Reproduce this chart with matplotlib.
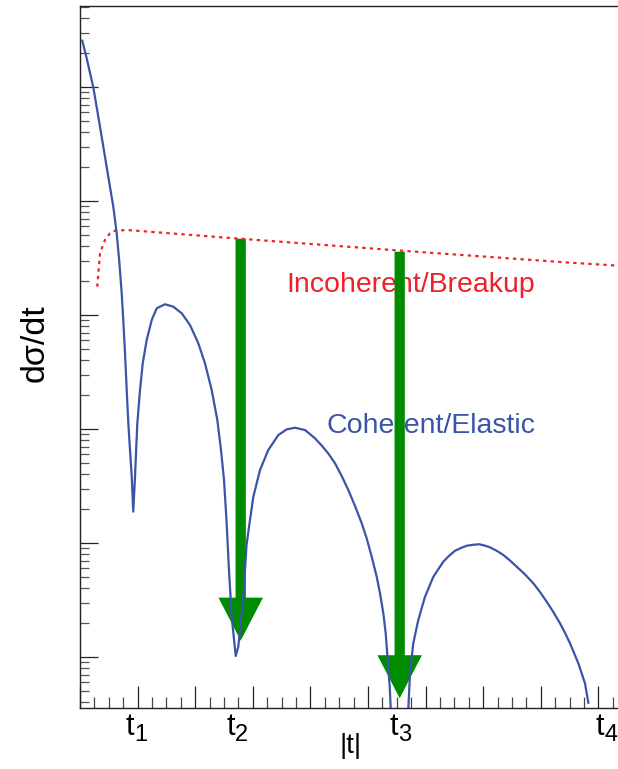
import matplotlib
matplotlib.use('Agg')
import matplotlib.pyplot as plt
import numpy as np
from matplotlib.ticker import MultipleLocator, LogLocator, NullFormatter

plt.rcParams['font.family'] = ['Liberation Sans', 'DejaVu Sans']

# ---------------- data (arbitrary units) ----------------
# coherent / elastic curve: |t| and log10(dsigma/dt)
coh_t = [0.040, 0.116, 0.231, 0.318, 0.405, 0.491, 0.578, 0.637, 0.682, 0.724,
         0.752, 0.781, 0.811, 0.839, 0.868, 0.898, 0.925,
         0.955, 0.995, 1.042, 1.089, 1.158, 1.245, 1.332, 1.476, 1.620, 1.766,
         1.910, 2.054, 2.170, 2.286, 2.384, 2.448, 2.500, 2.543, 2.583, 2.634,
         2.703,
         2.748, 2.835, 2.891, 2.951, 3.009, 3.125, 3.269, 3.443, 3.589, 3.733,
         3.906, 4.080, 4.196, 4.311, 4.427, 4.543, 4.658, 4.774, 4.891, 4.977,
         5.064, 5.151, 5.208, 5.266, 5.307, 5.342, 5.377, 5.394,
         5.550,
         5.700, 5.729, 5.786, 5.873, 5.990, 6.134, 6.307, 6.403, 6.510, 6.611,
         6.714, 6.819, 6.927, 7.023, 7.118, 7.233, 7.349, 7.465, 7.582, 7.726,
         7.870, 7.986, 8.102, 8.217, 8.333, 8.420, 8.507, 8.651, 8.767, 8.825]
coh_log10 = [5.406, 5.252, 4.997, 4.739, 4.476, 4.213, 3.950, 3.717, 3.470, 3.190,
             2.950, 2.670, 2.342, 2.050, 1.816, 1.582, 1.275,
             1.582, 2.050, 2.342, 2.576, 2.781, 2.956, 3.059, 3.094, 3.073, 3.015,
             2.912, 2.752, 2.576, 2.342, 2.079, 1.816, 1.553, 1.202, 0.792, 0.354,
             0.009,
             0.090, 0.524, 0.982, 1.202, 1.406, 1.640, 1.816, 1.947, 1.997, 2.011,
             1.991, 1.918, 1.855, 1.785, 1.699, 1.588, 1.465, 1.325, 1.173, 1.041,
             0.880, 0.704, 0.559, 0.383, 0.208, -0.026, -0.261, -0.450,
             -1.200,
             -0.450, -0.143, 0.120, 0.325, 0.529, 0.704, 0.836, 0.886, 0.932, 0.956,
             0.976, 0.984, 0.989, 0.978, 0.962, 0.932, 0.895, 0.846, 0.792, 0.724,
             0.646, 0.570, 0.485, 0.395, 0.296, 0.211, 0.120, -0.055, -0.231, -0.401]

# incoherent / breakup curve
incoh_t = [0.300, 0.318, 0.347, 0.434, 0.521, 0.578, 0.811, 2.703, 5.556, 8.507, 9.6]
incoh_log10 = [3.248, 3.366, 3.541, 3.658, 3.717, 3.737, 3.746, 3.672, 3.565, 3.459, 3.425]

# arrows: position, top and tip (log10 dsigma/dt)
arrow_t = [2.790, 5.550]
arrow_top = [3.669, 3.555]
arrow_tip = [0.143, -0.362]

# |t| marks
tick_main = ['t', 't', 't', 't']
tick_sub = ['1', '2', '3', '4']
tick_pos = [0.937, 2.691, 5.521, 9.097]

label_incoh = 'Incoherent/Breakup'
label_coh = 'Coherent/Elastic'
label_incoh_pos = (7.899, 3.204)
label_coh_pos = (7.899, 1.962)

xlim = (0.0, 9.6)
ylim_log10 = (-0.4447, 5.7105)

# ---------------- style ----------------
BLUE = '#3a55a5'
RED = '#ed2228'
GREEN = '#008c00'
AX = '#222222'

fig = plt.figure(figsize=(6.18, 7.69), dpi=100)
ax = fig.add_axes([0.12945, 0.07971, 0.8948, 0.91248])
ax.set_yscale('log')
ax.set_xlim(*xlim)
ax.set_ylim(10.0 ** ylim_log10[0], 10.0 ** ylim_log10[1])

# text labels (drawn below arrows)
ax.text(label_incoh_pos[0], 10.0 ** label_incoh_pos[1], label_incoh, color=RED,
        fontsize=20.5, ha='right', va='baseline', zorder=1)
ax.text(label_coh_pos[0], 10.0 ** label_coh_pos[1], label_coh, color=BLUE,
        fontsize=20.5, ha='right', va='baseline', zorder=1)

# arrows
for x, top, tip in zip(arrow_t, arrow_top, arrow_tip):
    ax.annotate('', xy=(x, 10.0 ** tip), xytext=(x, 10.0 ** top),
                arrowprops=dict(arrowstyle='simple,head_length=31,head_width=32,tail_width=7.4',
                                mutation_scale=1, shrinkA=0, shrinkB=0,
                                fc=GREEN, ec='none', lw=0),
                zorder=2)

# curves
ax.plot(incoh_t, 10.0 ** np.array(incoh_log10), color=RED, lw=1.6,
        linestyle=(0, (1.5, 1.9)), zorder=3)
ax.plot(coh_t, 10.0 ** np.array(coh_log10), color=BLUE, lw=1.6, zorder=4,
        solid_joinstyle='round')

# axes styling
for s in ['left', 'top', 'bottom']:
    ax.spines[s].set_color(AX)
    ax.spines[s].set_linewidth(1.0)
ax.spines['right'].set_visible(False)

ax.xaxis.set_major_locator(MultipleLocator(1))
ax.xaxis.set_minor_locator(MultipleLocator(0.25))
ax.xaxis.set_major_formatter(NullFormatter())
ax.xaxis.set_minor_formatter(NullFormatter())
ax.yaxis.set_major_locator(LogLocator(base=10, numticks=20))
ax.yaxis.set_minor_locator(LogLocator(base=10, subs=range(2, 10), numticks=20))
ax.yaxis.set_major_formatter(NullFormatter())
ax.yaxis.set_minor_formatter(NullFormatter())

ax.tick_params(axis='x', which='major', direction='in', length=15.6, width=0.9,
               color=AX, top=False, bottom=True)
ax.tick_params(axis='x', which='minor', direction='in', length=7.9, width=0.9,
               color='#444444', top=False, bottom=True)
ax.tick_params(axis='y', which='major', direction='in', length=13.2, width=0.9,
               color=AX, right=False, left=True)
ax.tick_params(axis='y', which='minor', direction='in', length=6.7, width=0.9,
               color='#555555', right=False, left=True)

# |t| marks: "t" with a subscript number
xtr = ax.get_xaxis_transform()
for m, s, pos in zip(tick_main, tick_sub, tick_pos):
    ax.text(pos, -0.0389, m, transform=xtr, ha='right', va='baseline',
            fontsize=22, color='black')
    ax.text(pos, -0.0470, s, transform=xtr, ha='left', va='baseline',
            fontsize=17, color='black')

ax.set_xlabel('|t|', fontsize=20, va='center')
ax.xaxis.set_label_coords(0.490, -0.0539)
ax.set_ylabel('dσ/dt', fontsize=24.5, va='center')
ax.yaxis.set_label_coords(-0.0805, 0.519)

fig.savefig('out.png', dpi=100)
